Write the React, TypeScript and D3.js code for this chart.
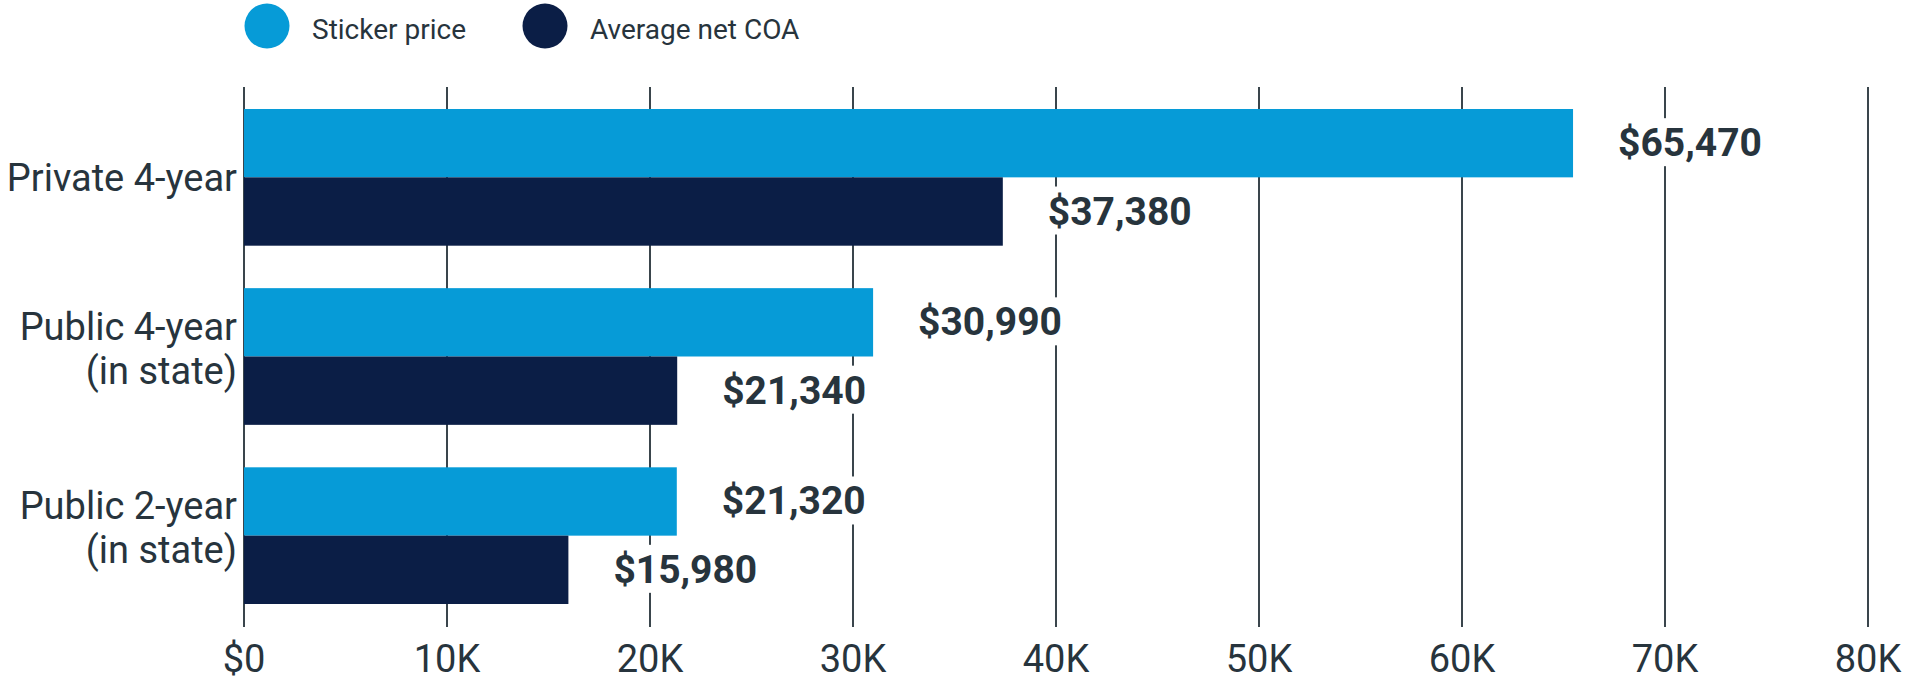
import React, { useMemo } from 'react'
import { scaleLinear, scaleBand, format } from 'd3'

const categories: string[][] = [
    ['Private 4-year'],
    ['Public 4-year', '(in state)'],
    ['Public 2-year', '(in state)'],
]
const seriesNames: string[] = ['Sticker price', 'Average net COA']
const stickerPrice: number[] = [65470, 30990, 21320]
const averageNetCOA: number[] = [37380, 21340, 15980]
const xTicks: number[] = [0, 10000, 20000, 30000, 40000, 50000, 60000, 70000, 80000]

const colors = ['#069bd7', '#0b1e46']
const textColor = '#27343d'
const gridColor = '#3a454c'

const width = 1920,
    height = 685
const margin = { top: 87, left: 244, right: 52, bottom: 58 }
const FONT = 'Roboto, "Liberation Sans", sans-serif'

const money = format('$,')
const tickFmt = (d: number) => (d === 0 ? '$0' : `${d / 1000}K`)

export default function App() {
    const xScale = useMemo(
        () => scaleLinear().domain([0, 80000]).range([margin.left, width - margin.right]),
        []
    )
    const yGroup = useMemo(
        () =>
            scaleBand<number>()
                .domain(categories.map((_, i) => i))
                .range([109, 604])
                .paddingInner(0.237)
                .paddingOuter(0),
        []
    )
    const ySub = useMemo(
        () => scaleBand<number>().domain([0, 1]).range([0, yGroup.bandwidth()]),
        [yGroup]
    )

    const series = [stickerPrice, averageNetCOA]
    const labelSize = 39

    return (
        <svg
            width={width}
            height={height}
            style={{ position: 'absolute', left: 0, top: 0, fontFamily: FONT }}
        >
            <rect width={width} height={height} fill="#fff" />

            {/* legend */}
            {seriesNames.map((name, i) => {
                const cx = i === 0 ? 267 : 545
                return (
                    <g key={name}>
                        <circle cx={cx} cy={26} r={22.5} fill={colors[i]} />
                        <text x={cx + 45} y={39} fontSize={28} fill={textColor}>
                            {name}
                        </text>
                    </g>
                )
            })}

            {/* grid + tick labels */}
            {xTicks.map((t) => (
                <g key={t}>
                    <line
                        x1={xScale(t)}
                        x2={xScale(t)}
                        y1={margin.top}
                        y2={height - margin.bottom}
                        stroke={gridColor}
                        strokeWidth={2}
                    />
                    <text
                        x={xScale(t)}
                        y={672}
                        textAnchor="middle"
                        fontSize={38}
                        fill={textColor}
                    >
                        {tickFmt(t)}
                    </text>
                </g>
            ))}

            {/* bars with value labels (white box knocks out the grid) */}
            {categories.map((cat, gi) => {
                const g0 = yGroup(gi) ?? 0
                return (
                    <g key={gi} transform={`translate(0,${g0})`}>
                        {series.map((s, si) => {
                            const v = s[gi]
                            const y = ySub(si) ?? 0
                            const bh = ySub.bandwidth()
                            const lx = xScale(v) + 45
                            const base = y + bh / 2 + 13
                            const txt = money(v)
                            const commas = (txt.match(/,/g) || []).length
                            const tw = (txt.length - commas) * 0.562 * labelSize + commas * 0.2 * labelSize
                            return (
                                <g key={si}>
                                    <rect
                                        x={lx - 10}
                                        y={base - 38}
                                        width={tw + 20}
                                        height={48}
                                        fill="#fff"
                                    />
                                    <rect
                                        x={xScale(0)}
                                        y={y}
                                        width={xScale(v) - xScale(0)}
                                        height={bh}
                                        fill={colors[si]}
                                    />
                                    <text
                                        x={lx}
                                        y={base}
                                        fontSize={labelSize}
                                        fontWeight={700}
                                        fill={textColor}
                                    >
                                        {txt}
                                    </text>
                                </g>
                            )
                        })}
                    </g>
                )
            })}

            {/* category labels */}
            {categories.map((cat, gi) => {
                const c = (yGroup(gi) ?? 0) + yGroup.bandwidth() / 2
                const first = cat.length === 1 ? c + 13.5 : c - 17
                return (
                    <text key={gi} textAnchor="end" fontSize={38} fill={textColor}>
                        {cat.map((line, li) => (
                            <tspan key={li} x={237} y={first + li * 44}>
                                {line}
                            </tspan>
                        ))}
                    </text>
                )
            })}
        </svg>
    )
}
